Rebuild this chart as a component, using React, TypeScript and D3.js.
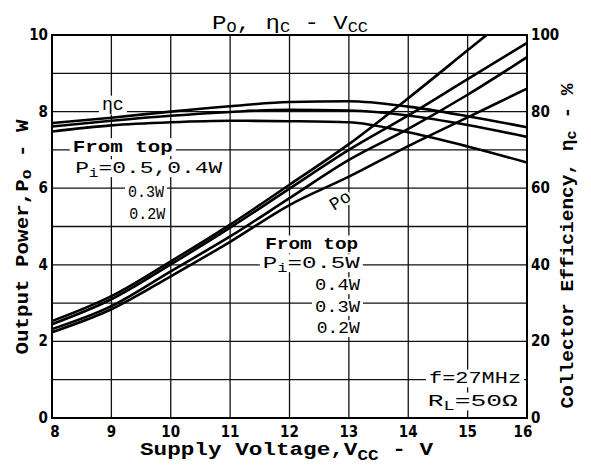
import * as d3 from "d3";

// supply voltage (V) sampled along the curves
const vcc = [8, 9, 10, 11, 12, 13, 14, 15, 16];

// output power Po (W), from top Pi = 0.5, 0.4, 0.3, 0.2 W
const po05 = [2.53, 3.18, 4.09, 5.05, 6.09, 7.15, 8.35, 9.6, 10.85];
const po04 = [2.45, 3.1, 4.01, 4.97, 5.99, 7.0, 7.9, 8.85, 9.79];
const po03 = [2.32, 2.92, 3.83, 4.74, 5.74, 6.74, 7.55, 8.44, 9.42];
const po02 = [2.24, 2.84, 3.7, 4.6, 5.56, 6.3, 7.1, 7.85, 8.6];

// collector efficiency (%), from top Pi = 0.5/0.4, 0.3, 0.2 W
const eff0504 = [77.0, 78.4, 80.0, 81.4, 82.5, 82.7, 81.3, 78.8, 75.9];
const eff03 = [76.1, 77.6, 78.9, 79.9, 80.5, 80.3, 79.0, 76.5, 73.4];
const eff02 = [74.8, 76.4, 77.2, 77.6, 77.5, 77.2, 74.6, 70.9, 66.7];

const xTicks = [8, 9, 10, 11, 12, 13, 14, 15, 16];
const yTicks = [0, 2, 4, 6, 8, 10];
const yRightTicks = [0, 20, 40, 60, 80, 100];
const yGrid = [1, 2, 3, 4, 5, 6, 7, 8, 9];

const W = 591;
const H = 473;
const left = 52, right = 527, top = 35, bottom = 418;

const mono = "'Liberation Mono', 'DejaVu Sans Mono', monospace";
const narrow = "'Liberation Sans Narrow', 'DejaVu Sans Condensed', 'Liberation Sans', sans-serif";

// text on a white patch, so the grid breaks round it like in the print
function Label(props: { x: number; y: number; w: number; size: number; bold?: boolean; children: any }) {
  const { x, y, w, size, bold } = props;
  return (
    <g>
      <rect x={x - 3} y={y - size * 0.8} width={w + 6} height={size * 1.05} fill="#fff" />
      <text x={x} y={y} fontFamily={mono} fontSize={size} fontWeight={bold ? "bold" : "normal"}
        textLength={w} lengthAdjust="spacingAndGlyphs">
        {props.children}
      </text>
    </g>
  );
}

export default function App() {
  const x = d3.scaleLinear().domain([8, 16]).range([left, right]);
  const y = d3.scaleLinear().domain([0, 10]).range([bottom, top]);
  const yR = d3.scaleLinear().domain([0, 100]).range([bottom, top]);

  const poLine = d3.line<number>().x((d, i) => x(vcc[i])).y(d => y(d)).curve(d3.curveMonotoneX);
  const effLine = d3.line<number>().x((d, i) => x(vcc[i])).y(d => yR(d)).curve(d3.curveMonotoneX);

  return (
    <svg width={W} height={H} style={{ position: "absolute", left: 0, top: 0, background: "#fff" }}>
      <defs>
        <clipPath id="plot">
          <rect x={left} y={top} width={right - left} height={bottom - top} />
        </clipPath>
      </defs>
      <rect width={W} height={H} fill="#fff" />

      {/* grid */}
      <g stroke="#111" strokeWidth={1.3}>
        {xTicks.slice(1, -1).map(v => (
          <line key={"gx" + v} x1={x(v)} x2={x(v)} y1={top} y2={bottom} />
        ))}
        {yGrid.map(v => (
          <line key={"gy" + v} x1={left} x2={right} y1={y(v)} y2={y(v)} />
        ))}
      </g>

      {/* title */}
      <text x={212} y={29} fontFamily={mono} fontSize={20} textLength={156} lengthAdjust="spacingAndGlyphs">
        P<tspan fontSize={14} dy={3}>O</tspan>
        <tspan dy={-3}>, η</tspan>
        <tspan fontSize={14} dy={3}>C</tspan>
        <tspan dy={-3}> - V</tspan>
        <tspan fontSize={14} dy={3}>CC</tspan>
      </text>

      {/* annotations */}
      <Label x={x(8.84)} y={y(8.04)} w={22} size={18}>ηc</Label>
      <Label x={x(8.35)} y={y(6.95)} w={100} size={17} bold>From top</Label>
      <Label x={x(8.39)} y={y(6.4)} w={147} size={17}>
        P<tspan fontSize={12} dy={4}>i</tspan><tspan dy={-4}>=0.5,0.4W</tspan>
      </Label>
      <Label x={x(9.28)} y={y(5.77)} w={36} size={16}>0.3W</Label>
      <Label x={x(9.3)} y={y(5.2)} w={36} size={16}>0.2W</Label>

      <text transform={`translate(${x(12.85)},${y(5.69)}) rotate(-32)`} textAnchor="middle"
        fontFamily={mono} fontSize={18} dy={6} stroke="#fff" strokeWidth={5} style={{ paintOrder: "stroke" }}>
        Po
      </text>

      <Label x={x(11.59)} y={y(4.41)} w={93} size={17} bold>From top</Label>
      <Label x={x(11.55)} y={y(3.92)} w={97} size={17}>
        P<tspan fontSize={12} dy={4}>i</tspan><tspan dy={-4}>=0.5W</tspan>
      </Label>
      <Label x={x(12.43)} y={y(3.34)} w={45} size={16}>0.4W</Label>
      <Label x={x(12.43)} y={y(2.77)} w={45} size={16}>0.3W</Label>
      <Label x={x(12.46)} y={y(2.22)} w={43} size={16}>0.2W</Label>

      <Label x={x(14.35)} y={y(0.91)} w={92} size={17}>f=27MHz</Label>
      <Label x={x(14.33)} y={y(0.31)} w={90} size={17}>
        R<tspan fontSize={12} dy={4}>L</tspan><tspan dy={-4}>=50Ω</tspan>
      </Label>

      {/* curves */}
      <g clipPath="url(#plot)" fill="none" stroke="#000" strokeWidth={2.6} strokeLinejoin="round">
        {[po05, po04, po03, po02].map((s, i) => (
          <path key={"po" + i} d={poLine(s) ?? ""} />
        ))}
        {[eff0504, eff03, eff02].map((s, i) => (
          <path key={"ef" + i} d={effLine(s) ?? ""} />
        ))}
      </g>

      {/* frame */}
      <rect x={left} y={top} width={right - left} height={bottom - top} fill="none" stroke="#000" strokeWidth={2} />

      {/* tick labels */}
      <g fontFamily={narrow} fontWeight="bold" fontSize={15} fill="#000">
        {yTicks.map(v => (
          <text key={"yl" + v} x={left - 4} y={y(v) + 5} textAnchor="end">{v}</text>
        ))}
        {yRightTicks.map(v => (
          <text key={"yr" + v} x={right + 4} y={yR(v) + 5} textAnchor="start">{v}</text>
        ))}
        {xTicks.map((v, i) => (
          <text key={"xl" + v} x={x(v) + (i === 0 ? 3 : i === xTicks.length - 1 ? -4 : 0)} y={437} textAnchor="middle">{v}</text>
        ))}
      </g>

      {/* axis titles */}
      <text x={140} y={455} fontFamily={mono} fontWeight="bold" fontSize={18} textLength={293} lengthAdjust="spacingAndGlyphs">
        Supply Voltage,V<tspan fontSize={14} dy={5}>CC</tspan><tspan dy={-5}> - V</tspan>
      </text>
      <text transform="translate(28,237) rotate(-90)" textAnchor="middle" fontFamily={mono} fontWeight="bold" fontSize={18} textLength={235} lengthAdjust="spacingAndGlyphs">
        Output Power,P<tspan fontSize={14} dy={3}>o</tspan><tspan dy={-3}> - W</tspan>
      </text>
      <text transform="translate(573,246) rotate(-90)" textAnchor="middle" fontFamily={mono} fontWeight="bold" fontSize={18} textLength={325} lengthAdjust="spacingAndGlyphs">
        Collector Efficiency, η<tspan fontSize={14} dy={3}>c</tspan><tspan dy={-3}> - %</tspan>
      </text>
    </svg>
  );
}
